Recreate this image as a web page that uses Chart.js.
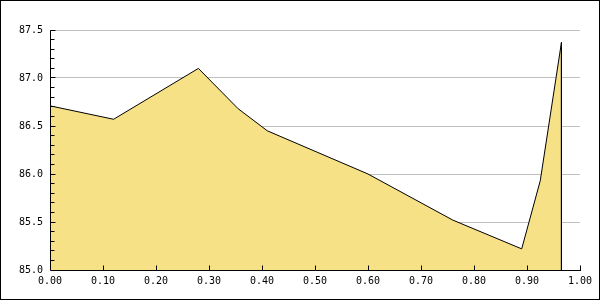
<!DOCTYPE html>
<html>
<head>
<meta charset="utf-8">
<script src="https://cdn.jsdelivr.net/npm/chart.js@4/dist/chart.umd.min.js"></script>
<style>
body { margin: 0; background: #fff; }
#wrap { width: 600px; height: 300px; }
</style>
</head>
<body>
<div id="wrap"><canvas id="areaChart"></canvas></div>
<script>
// DATA (last point closes the area down to the baseline)
const xValues = [0, 0.12, 0.28, 0.355, 0.41, 0.60, 0.76, 0.89, 0.925, 0.965, 0.965];
const yValues = [86.71, 86.57, 87.10, 86.68, 86.45, 86.00, 85.52, 85.22, 85.93, 87.37, 85.0];

// axis ranges
const yMin = 85.0, yMax = 87.5, yStep = 0.5, yMinorStep = 0.1;
const xMin = 0, xMax = 1, xStep = 0.1;

const points = xValues.map((x, i) => ({x: x, y: yValues[i]}));

function align(chart, px) {
    return Math.round(px - 0.5) + 0.5;
}

// inside tick marks, axis lines and outer frame
const frameTicks = {
    id: 'frameTicks',
    afterDraw(chart) {
        const ctx = chart.ctx;
        const area = chart.chartArea;
        const xs = chart.scales.x;
        const ys = chart.scales.y;
        const left = align(chart, area.left);
        const bottom = align(chart, area.bottom);
        ctx.save();
        ctx.strokeStyle = '#000';
        ctx.lineWidth = 1;
        ctx.beginPath();
        // y ticks (major every 0.5, minor every 0.1)
        const nMinor = Math.round((yMax - yMin) / yMinorStep);
        const perMajor = Math.round(yStep / yMinorStep);
        for (let i = 1; i <= nMinor; i++) {
            const py = align(chart, ys.getPixelForValue(yMin + i * yMinorStep));
            const len = (i % perMajor === 0) ? 5 : 4;
            ctx.moveTo(left, py);
            ctx.lineTo(left + len, py);
        }
        // x ticks pointing up
        const nX = Math.round((xMax - xMin) / xStep);
        for (let i = 1; i <= nX; i++) {
            const px = align(chart, xs.getPixelForValue(xMin + i * xStep));
            ctx.moveTo(px, bottom);
            ctx.lineTo(px, bottom - 5);
        }
        // axis lines
        ctx.moveTo(left, align(chart, area.top));
        ctx.lineTo(left, bottom);
        ctx.lineTo(align(chart, area.right) + 0.5, bottom);
        ctx.stroke();
        // frame around the image
        ctx.strokeRect(0.5, 0.5, chart.width - 1, chart.height - 1);
        ctx.restore();
    }
};

const tickFont = { family: 'DejaVu Sans Mono', size: 10 };

new Chart(document.getElementById('areaChart'), {
    type: 'line',
    data: {
        datasets: [{
            data: points,
            borderColor: '#000',
            borderWidth: 1,
            backgroundColor: '#f6e186',
            fill: 'start',
            tension: 0,
            pointRadius: 0
        }]
    },
    options: {
        responsive: true,
        maintainAspectRatio: false,
        animation: false,
        layout: {
            padding: { top: 30, right: 20, left: 0, bottom: 0 }
        },
        plugins: {
            legend: { display: false },
            tooltip: { enabled: false }
        },
        scales: {
            x: {
                type: 'linear',
                min: xMin,
                max: xMax,
                border: { display: false },
                grid: { drawOnChartArea: false, drawTicks: false },
                ticks: {
                    stepSize: xStep,
                    color: '#000',
                    font: tickFont,
                    padding: 5,
                    maxRotation: 0,
                    autoSkip: false,
                    callback: v => v.toFixed(2)
                },
                afterFit: s => { s.height = 30; }
            },
            y: {
                min: yMin,
                max: yMax,
                border: { display: false },
                grid: {
                    drawTicks: false,
                    color: ctx => (ctx.tick && ctx.tick.value === yMin) ? 'rgba(0,0,0,0)' : '#c0c0c0'
                },
                ticks: {
                    stepSize: yStep,
                    color: '#000',
                    font: tickFont,
                    padding: 7,
                    callback: v => v.toFixed(1)
                },
                afterFit: s => { s.width = 50; }
            }
        }
    },
    plugins: [frameTicks]
});
</script>
</body>
</html>
